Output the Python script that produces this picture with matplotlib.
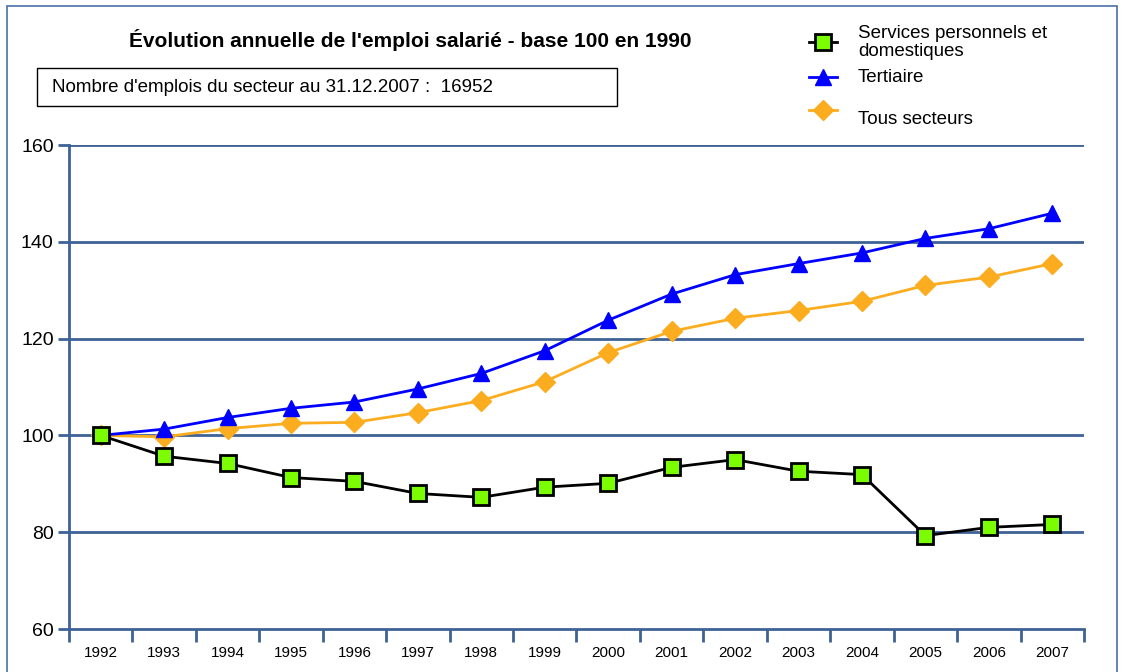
import matplotlib.pyplot as plt
from matplotlib.lines import Line2D
from matplotlib.patches import Rectangle

plt.rcParams['font.family'] = ['Liberation Sans', 'DejaVu Sans']

years = ["1992", "1993", "1994", "1995", "1996", "1997", "1998", "1999",
         "2000", "2001", "2002", "2003", "2004", "2005", "2006", "2007"]
services = [100.0, 95.7, 94.2, 91.3, 90.5, 88.0, 87.2, 89.3,
            90.1, 93.4, 95.0, 92.6, 91.9, 79.3, 81.0, 81.6]
tertiaire = [100.0, 101.3, 103.7, 105.6, 106.9, 109.6, 112.8, 117.5,
             123.8, 129.2, 133.2, 135.5, 137.7, 140.7, 142.7, 145.9]
tous = [100.0, 99.7, 101.4, 102.5, 102.7, 104.7, 107.2, 111.1,
        117.1, 121.5, 124.2, 125.8, 127.7, 131.0, 132.7, 135.5]

axis_col = "#3f6296"
green = "#7cfc00"
blue = "#0000ff"
orange = "#fbad1f"

W, H = 1124, 672
fig = plt.figure(figsize=(W / 100, H / 100), dpi=100)
ax = fig.add_axes([69/W, 43/H, 1015/W, 484/H])

x = list(range(len(years)))
ax.plot(x, tous, color=orange, lw=2, marker="D", ms=10, mec=orange, mfc=orange, zorder=3)
ax.plot(x, tertiaire, color=blue, lw=2, marker="^", ms=12, mec=blue, mfc=blue, zorder=4)
ax.plot(x, services, color="black", lw=2, marker="s", ms=11, mec="black", mew=2, mfc=green, zorder=5)

ax.set_xlim(-0.5, len(years) - 0.5)
ax.set_ylim(60, 160)
ax.set_yticks([60, 80, 100, 120, 140, 160])
for v in [80, 100, 120, 140, 160]:
    ax.axhline(v, color=axis_col, lw=2, zorder=1)

ax.set_xticks(x)
ax.set_xticklabels(years, fontsize=11)
ax.set_xticks([i - 0.5 for i in range(len(years) + 1)], minor=True)
ax.tick_params(axis="x", which="major", length=0, pad=12)
ax.tick_params(axis="x", which="minor", length=9, width=2, color=axis_col, direction="out")
ax.tick_params(axis="y", length=8, width=2, color=axis_col, labelsize=14, pad=3)

for s in ["top", "right"]:
    ax.spines[s].set_visible(False)
for s in ["left", "bottom"]:
    ax.spines[s].set_color(axis_col)
    ax.spines[s].set_linewidth(2)

# title and info box
fig.text(410/W, 1 - 40/H, "Évolution annuelle de l'emploi salarié - base 100 en 1990",
         ha="center", va="center", fontsize=15, fontweight="bold")
fig.add_artist(Rectangle((37/W, 1 - 106/H), 580/W, 38/H, transform=fig.transFigure,
                         fill=False, ec="black", lw=1))
fig.text(52/W, 1 - 88/H, "Nombre d'emplois du secteur au 31.12.2007 :  16952",
         ha="left", va="center", fontsize=13.5)

# legend (handles drawn by hand in figure coords)
def handle(yp, line_kw, marker_kw):
    fig.add_artist(Line2D([809/W, 837/W], [1 - yp/H] * 2, transform=fig.transFigure,
                          lw=2, **line_kw))
    fig.add_artist(Line2D([823/W], [1 - yp/H], transform=fig.transFigure, **marker_kw))

handle(42, dict(color="black"), dict(marker="s", ms=11, mec="black", mew=2, mfc=green))
handle(77, dict(color=blue), dict(marker="^", ms=12, color=blue))
handle(110, dict(color=orange), dict(marker="D", ms=10, color=orange))

fig.text(858/W, 1 - 33/H, "Services personnels et", ha="left", va="center", fontsize=13.5)
fig.text(858/W, 1 - 52/H, "domestiques", ha="left", va="center", fontsize=13.5)
fig.text(858/W, 1 - 77/H, "Tertiaire", ha="left", va="center", fontsize=13.5)
fig.text(858/W, 1 - 119/H, "Tous secteurs", ha="left", va="center", fontsize=13.5)

# outer frame
fig.add_artist(Rectangle((7/W, -0.01), 1110/W, 1 - 6/H + 0.01, transform=fig.transFigure,
                         fill=False, ec="#4a70a8", lw=1.2))

fig.savefig("out.png", dpi=100)
